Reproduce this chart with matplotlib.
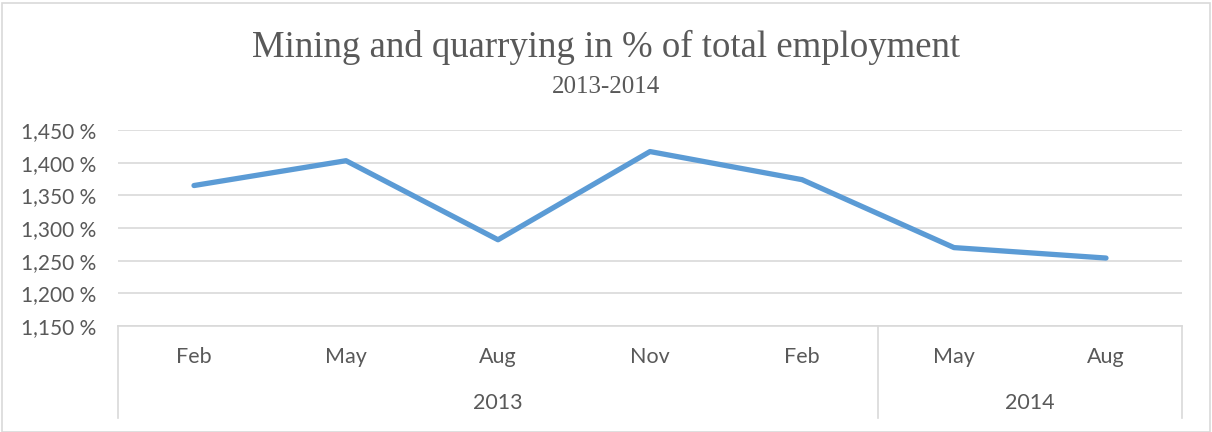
import matplotlib
matplotlib.use("Agg")
import matplotlib.pyplot as plt
import matplotlib.patches as patches
from matplotlib.ticker import FuncFormatter, MultipleLocator

# Data (values in %)
months = ['Feb', 'May', 'Aug', 'Nov', 'Feb', 'May', 'Aug']
years = ['2013', '2014']
year_counts = [5, 2]  # how many months fall under each year label
share = [1.365, 1.403, 1.282, 1.417, 1.374, 1.270, 1.254]

line_color = '#5B9BD5'
grid_color = '#D9D9D9'
text_color = '#595959'
W, H = 1212, 432

fig = plt.figure(figsize=(W / 100, H / 100), dpi=100)
ax = fig.add_axes([118 / W, 1 - 326 / H, (1182 - 118) / W, (326 - 130) / H])

x = list(range(len(months)))
ax.plot(x, share, color=line_color, linewidth=3.8, solid_capstyle='round', solid_joinstyle='round', zorder=3)

ax.set_xlim(-0.5, len(months) - 0.5)
ax.set_ylim(1.15, 1.45)
ax.yaxis.set_major_locator(MultipleLocator(0.05))
ax.yaxis.set_major_formatter(FuncFormatter(lambda v, p: f"{v:,.3f} %".replace('.', ',')))
ax.grid(axis='y', color=grid_color, linewidth=1.2)
ax.set_axisbelow(True)
for s in ['top', 'right', 'left']:
    ax.spines[s].set_visible(False)
ax.spines['bottom'].set_color(grid_color)
ax.spines['bottom'].set_linewidth(1.2)
ax.tick_params(axis='y', length=0, pad=16, labelsize=15, labelcolor=text_color)
ax.tick_params(axis='x', length=0, labelbottom=False)
for lbl in ax.get_yticklabels():
    lbl.set_family('Lato')

# two-level category axis
ah = 326 - 130
month_y = -31 / ah
year_y = -77 / ah
line_bottom = -92 / ah
trans = ax.get_xaxis_transform()
for i, m in enumerate(months):
    ax.text(i, month_y, m, transform=trans, ha='center', va='center',
            fontsize=15.5, color=text_color, family='Lato')
start = 0
bounds = [-0.5]
for yr, n in zip(years, year_counts):
    mid = start + (n - 1) / 2
    ax.text(mid, year_y, yr, transform=trans, ha='center', va='center',
            fontsize=15.5, color=text_color, family='Lato')
    start += n
    bounds.append(start - 0.5)
for b in bounds:
    ax.plot([b, b], [0, line_bottom], transform=trans, color=grid_color,
            linewidth=1.2, clip_on=False)

# titles
fig.text(606 / W, 1 - 47 / H, 'Mining and quarrying in % of total employment',
         ha='center', va='center', fontsize=26.5, color=text_color, family='Liberation Serif')
fig.text(606 / W, 1 - 87 / H, '2013-2014', ha='center', va='center',
         fontsize=18, color=text_color, family='Liberation Serif')

# chart border
fig.patches.append(patches.Rectangle((2 / W, 0), 1 - 4 / W, 1 - 3 / H, transform=fig.transFigure,
                                     fill=False, edgecolor=grid_color, linewidth=1.2))

fig.savefig('out.png', dpi=100, facecolor='white')
